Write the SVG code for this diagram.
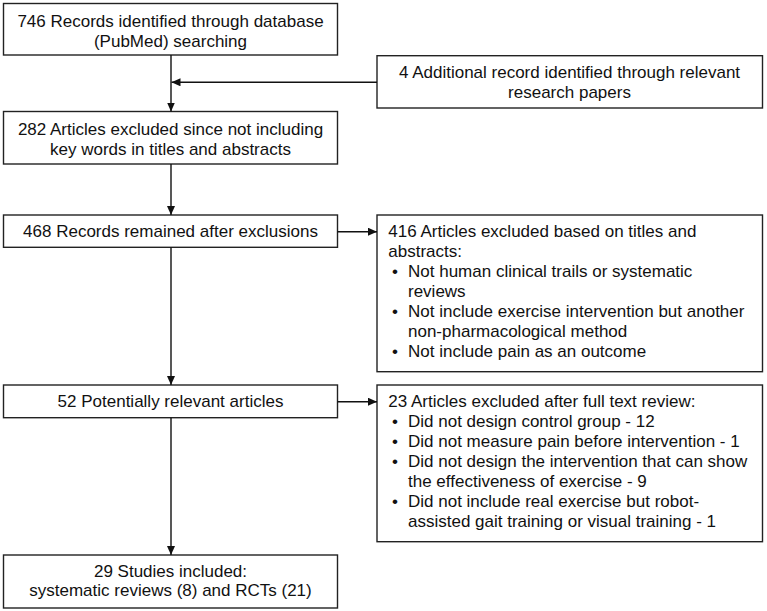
<svg xmlns="http://www.w3.org/2000/svg" width="767" height="611" viewBox="0 0 767 611">
<style>
.box{fill:#fff;stroke:#222;stroke-width:1.4}
.t{font-family:"Liberation Sans",Arial,sans-serif;font-size:17px;fill:#111}
.c{text-anchor:middle}
.ln{stroke:#111;stroke-width:1.4;fill:none}
</style>
<defs>
<marker id="ah" markerUnits="userSpaceOnUse" markerWidth="9" markerHeight="8" refX="9" refY="4" orient="auto">
<path d="M0,0 L9,4 L0,8 z" fill="#111"/>
</marker>
</defs>
<rect width="767" height="611" fill="#fff"/>
<g id="n1">
<rect class="box" x="3.5" y="3.5" width="334" height="51.5"/>
<text class="t c" x="170.5" y="26.7">746 Records identified through database</text>
<text class="t c" x="170.5" y="46.7">(PubMed) searching</text>
</g>
<g id="n2">
<rect class="box" x="377" y="55.7" width="385.5" height="52.3"/>
<text class="t c" x="569.5" y="77.7">4 Additional record identified through relevant</text>
<text class="t c" x="569.5" y="97.7">research papers</text>
</g>
<g id="n3">
<rect class="box" x="3.5" y="111.5" width="334" height="52.5"/>
<text class="t c" x="170.5" y="135">282 Articles excluded since not including</text>
<text class="t c" x="170.5" y="154.5">key words in titles and abstracts</text>
</g>
<g id="n4">
<rect class="box" x="3.5" y="215" width="334" height="32.3"/>
<text class="t c" x="170.5" y="236.7">468 Records remained after exclusions</text>
</g>
<g id="n5">
<rect class="box" x="377" y="215" width="385.5" height="156.7"/>
<text class="t" x="388.3" y="236.7">416 Articles excluded based on titles and</text>
<text class="t" x="388.3" y="256.7">abstracts:</text>
<text class="t" x="392" y="276.7">•</text><text class="t" x="408" y="276.7">Not human clinical trails or systematic</text>
<text class="t" x="408" y="296.7">reviews</text>
<text class="t" x="392" y="316.7">•</text><text class="t" x="408" y="316.7">Not include exercise intervention but another</text>
<text class="t" x="408" y="336.7">non-pharmacological method</text>
<text class="t" x="392" y="356.7">•</text><text class="t" x="408" y="356.7">Not include pain as an outcome</text>
</g>
<g id="n6">
<rect class="box" x="3.5" y="385" width="334" height="32.7"/>
<text class="t c" x="170.5" y="406.7">52 Potentially relevant articles</text>
</g>
<g id="n7">
<rect class="box" x="377" y="385" width="385.5" height="156.7"/>
<text class="t" x="388.3" y="406.7">23 Articles excluded after full text review:</text>
<text class="t" x="392" y="426.7">•</text><text class="t" x="408" y="426.7">Did not design control group - 12</text>
<text class="t" x="392" y="446.7">•</text><text class="t" x="408" y="446.7">Did not measure pain before intervention - 1</text>
<text class="t" x="392" y="466.7">•</text><text class="t" x="408" y="466.7">Did not design the intervention that can show</text>
<text class="t" x="408" y="486.7">the effectiveness of exercise - 9</text>
<text class="t" x="392" y="506.7">•</text><text class="t" x="408" y="506.7">Did not include real exercise but robot-</text>
<text class="t" x="408" y="526.7">assisted gait training or visual training - 1</text>
</g>
<g id="n8">
<rect class="box" x="3.5" y="555" width="334" height="53"/>
<text class="t c" x="170.5" y="576.7">29 Studies included:</text>
<text class="t c" x="170.5" y="595.5">systematic reviews (8) and RCTs (21)</text>
</g>
<g id="connectors">
<line class="ln" x1="171" y1="55" x2="171" y2="111.5" marker-end="url(#ah)"/>
<line class="ln" x1="377" y1="82.3" x2="171.5" y2="82.3" marker-end="url(#ah)"/>
<line class="ln" x1="171" y1="164" x2="171" y2="215" marker-end="url(#ah)"/>
<line class="ln" x1="337.5" y1="231.7" x2="377" y2="231.7" marker-end="url(#ah)"/>
<line class="ln" x1="171" y1="247.3" x2="171" y2="385" marker-end="url(#ah)"/>
<line class="ln" x1="337.5" y1="401.7" x2="377" y2="401.7" marker-end="url(#ah)"/>
<line class="ln" x1="171" y1="417.7" x2="171" y2="555" marker-end="url(#ah)"/>
</g>
</svg>
